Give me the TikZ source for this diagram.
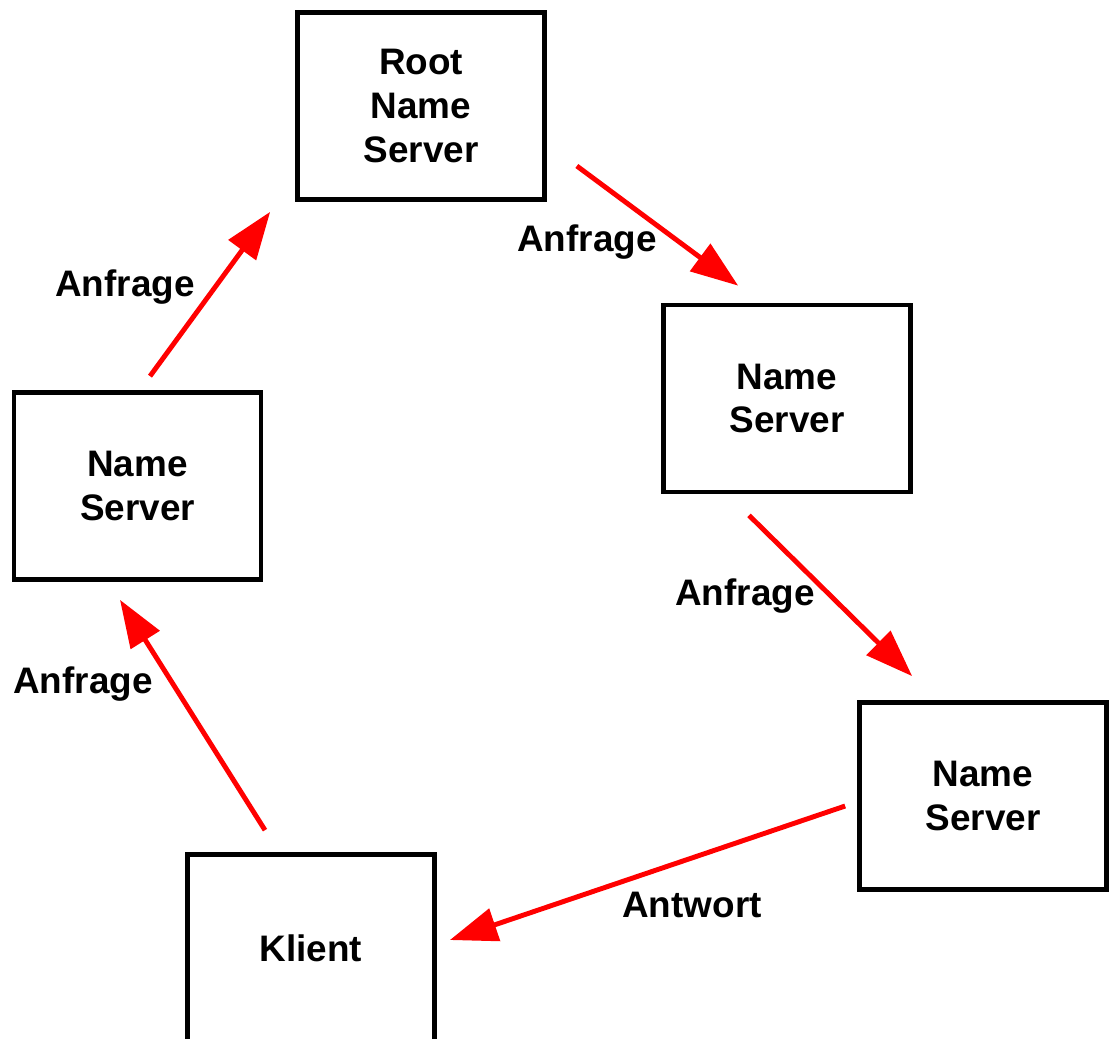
\documentclass[tikz,border=0pt]{standalone}
\usepackage{fontspec}
\setmainfont{Liberation Sans}
\usetikzlibrary{arrows.meta}

\tikzset{
	server/.style={draw=black, line width=2.7pt, minimum width=4.94cm, minimum height=3.74cm,
		align=center, font=\fontsize{21}{25}\selectfont\bfseries, inner sep=0pt},
	pfeil/.style={draw=red, line width=2.8pt, -{Triangle[length=27pt,width=19pt]}},
	beschriftung/.style={font=\fontsize{21}{25}\selectfont\bfseries, inner sep=0pt}
}

\begin{document}
\begin{tikzpicture}[x=0.02cm, y=-0.02cm]

	\useasboundingbox (0,0) rectangle (1111,1038);

	% Kaesten
	\node[server] (root) at (421,106) {Root\\Name\\Server};
	\node[server] (nsl) at (137.5,486) {Name\\Server};
	\node[server] (nsr) at (787,398.5) {Name\\Server};
	\node[server] (nsu) at (983,796) {Name\\Server};
	\node[server] (klient) at (311,948) {Klient};

	% Pfeile
	\draw[pfeil] ([shift={(-46,-22)}]klient.north) -- ([shift={(-17.5,18)}]nsl.south);
	\draw[pfeil] ([shift={(12.5,-14)}]nsl.north) -- ([shift={(-25,10)}]root.south west);
	\draw[pfeil] ([shift={(30,60)}]root.east) -- ([shift={(77,-17)}]nsr.north west);
	\draw[pfeil] ([shift={(-38,21)}]nsr.south) -- ([shift={(55,-24)}]nsu.north west);
	\draw[pfeil] ([shift={(-12,10)}]nsu.west) -- ([shift={(13,-8)}]klient.east);

	% Beschriftungen
	\node[beschriftung] (a1) at (83,684) {Anfrage};
	\node[beschriftung] (a2) at (125,287) {Anfrage};
	\node[beschriftung] (a3) at (587,242) {Anfrage};
	\node[beschriftung] (a4) at (745,596) {Anfrage};
	\node[beschriftung] (antw) at (692,905) {Antwort};

\end{tikzpicture}
\end{document}
